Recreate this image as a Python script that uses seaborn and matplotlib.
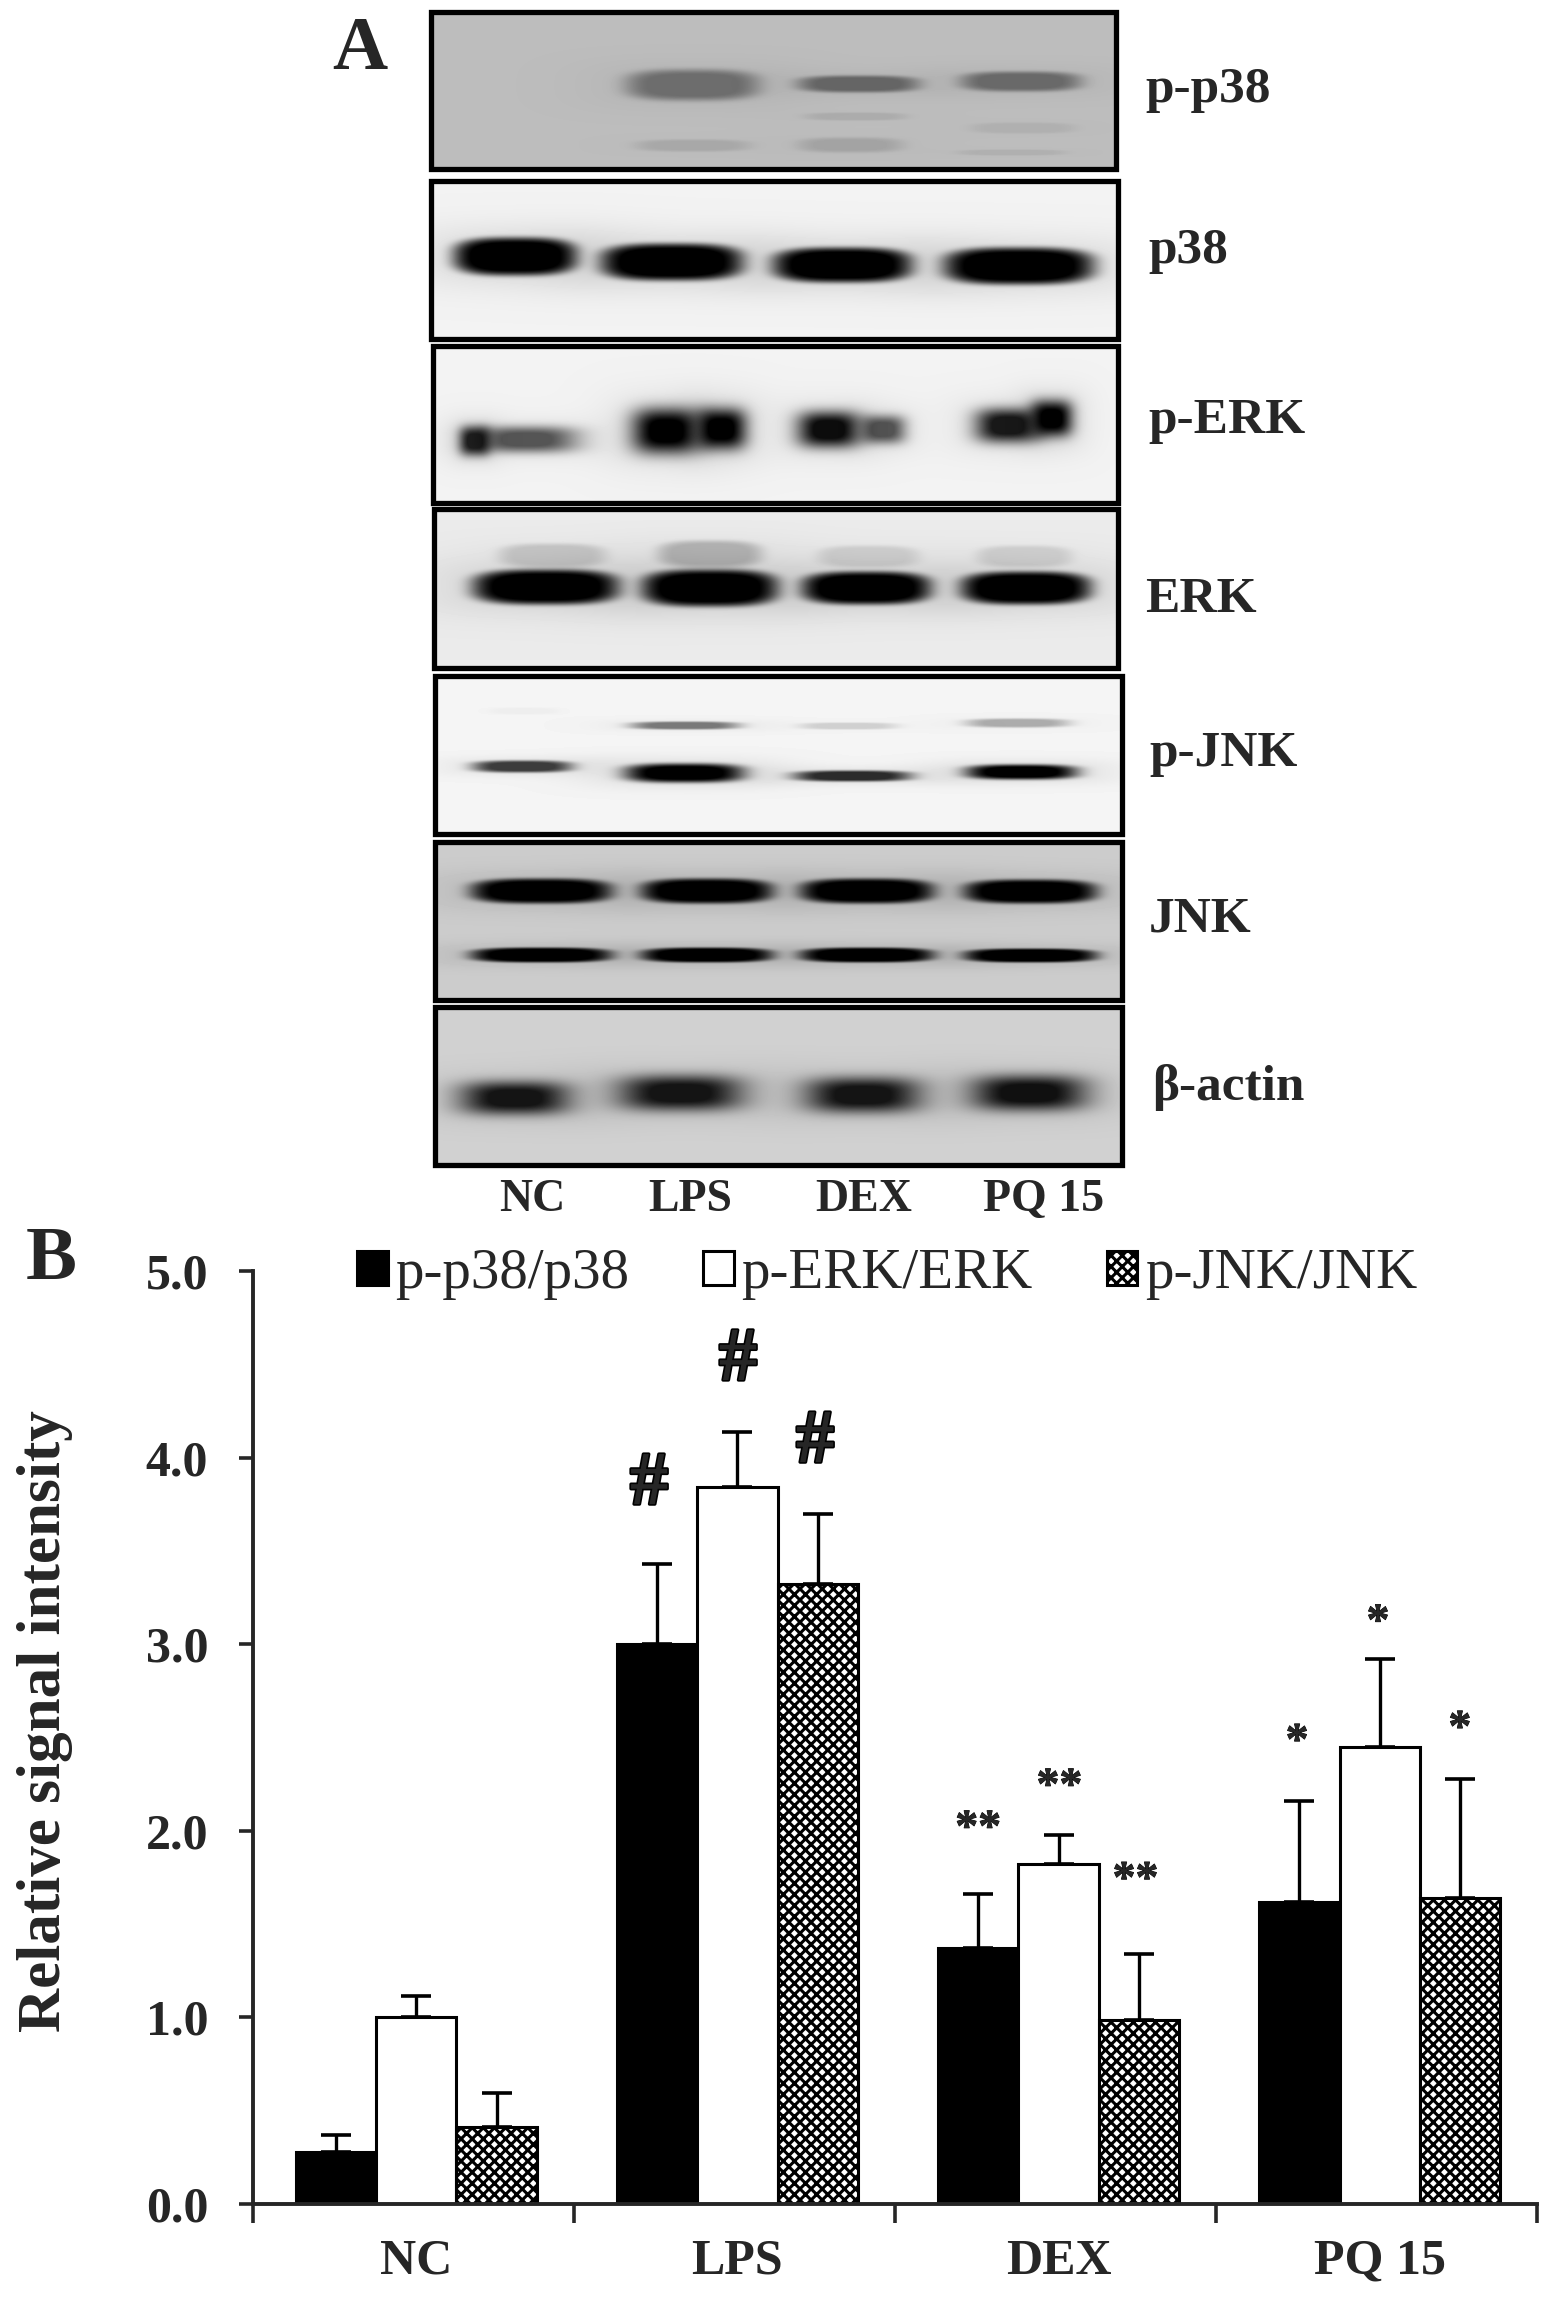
#!/usr/bin/env python3

import numpy as np
import pandas as pd
import matplotlib
matplotlib.use('Agg')
import matplotlib.pyplot as plt
import matplotlib.patheffects as pe
import seaborn as sns
from matplotlib.patches import Patch, Rectangle

W, H = 1559, 2313

# ---- data: panel B ----
groups = ['NC', 'LPS', 'DEX', 'PQ 15']
series = ['p-p38/p38', 'p-ERK/ERK', 'p-JNK/JNK']
p38_mean = [0.28, 3.00, 1.37, 1.62]
p38_sd = [0.09, 0.43, 0.29, 0.54]
erk_mean = [1.00, 3.84, 1.82, 2.45]
erk_sd = [0.115, 0.295, 0.16, 0.47]
jnk_mean = [0.415, 3.32, 0.985, 1.64]
jnk_sd = [0.18, 0.38, 0.355, 0.635]
yticks = [0, 1, 2, 3, 4, 5]

# significance marks: text, x in category units, y in value units
marks = [('#', 0.725, 3.85), ('#', 1.002, 4.515), ('#', 1.242, 4.075),
         ('**', 1.75, 2.005), ('**', 2.003, 2.23), ('**', 2.24, 1.73),
         ('*', 2.743, 2.47), ('*', 2.995, 3.11), ('*', 3.25, 2.54)]

# ---- data: panel A, blots as soft bands (x0, x1, y0, y1, depth) on page pixels ----
blots = [
    dict(name='p-p38', frame=(431, 1116, 12, 169), bg=0.74, edge=6, bands=[
        (625, 759, 69, 100, 0.42), (797, 919, 75, 92, 0.46), (960, 1081, 71, 91, 0.44),
        (635, 750, 139, 151, 0.11), (804, 906, 112, 120, 0.09), (797, 903, 137, 152, 0.13),
        (970, 1075, 122, 133, 0.07), (957, 1065, 149, 155, 0.07)]),
    dict(name='p38', frame=(431, 1118, 181, 339), bg=0.95, edge=7, bands=[
        (453, 577, 237, 275, 1.0), (600, 743, 243, 280, 1.0),
        (772, 912, 247, 282, 1.0), (943, 1094, 247, 284, 1.0)]),
    dict(name='p-ERK', frame=(433, 1118, 346, 503), bg=0.95, edge=3, bands=[
        (459, 490, 426, 455, 0.85), (475, 577, 426, 452, 0.65),
        (632, 700, 408, 453, 1.0), (695, 746, 408, 449, 1.0),
        (797, 860, 411, 447, 0.95), (860, 905, 415, 443, 0.65),
        (975, 1040, 408, 442, 0.9), (1030, 1072, 400, 436, 1.0)]),
    dict(name='ERK', frame=(434, 1118, 509, 668), bg=0.92, edge=7, bands=[
        (472, 619, 569, 604, 1.0), (641, 778, 569, 606, 1.0),
        (801, 931, 571, 604, 1.0), (960, 1091, 571, 604, 1.0),
        (498, 606, 543, 567, 0.16), (657, 762, 540, 567, 0.24),
        (817, 919, 545, 567, 0.12), (976, 1072, 545, 567, 0.12)]),
    dict(name='p-JNK', frame=(435, 1122, 676, 834), bg=0.96, edge=5, bands=[
        (487, 560, 707, 714, 0.03), (630, 739, 721, 729, 0.5),
        (799, 897, 722, 729, 0.15), (965, 1069, 718, 727, 0.3),
        (472, 572, 760, 772, 0.75), (624, 744, 763, 782, 1.0),
        (793, 911, 770, 781, 0.82), (965, 1077, 764, 779, 1.0)]),
    dict(name='JNK', frame=(435, 1122, 842, 1000), bg=0.80, edge=7, bands=[
        (470, 612, 878, 903, 1.0), (640, 773, 878, 903, 1.0),
        (799, 934, 878, 903, 1.0), (963, 1097, 879, 903, 1.0),
        (470, 612, 947, 962, 1.0), (640, 773, 947, 962, 1.0),
        (799, 934, 947, 962, 1.0), (963, 1097, 948, 962, 1.0)]),
    dict(name='actin', frame=(435, 1122, 1007, 1165), bg=0.82, edge=3, bands=[
        (460, 569, 1081, 1114, 0.9), (618, 742, 1075, 1110, 0.9),
        (805, 920, 1077, 1112, 0.9), (971, 1086, 1075, 1110, 0.92)]),
]
blot_labels = [('p-p38', 1145, 102), ('p38', 1148, 263), ('p-ERK', 1148, 433), ('ERK', 1145, 612),
               ('p-JNK', 1149, 766), ('JNK', 1149, 932), ('β-actin', 1152, 1100)]
lane_labels = [('NC', 532), ('LPS', 690), ('DEX', 864), ('PQ 15', 1044)]

sns.set_style('ticks')
plt.rcParams['font.family'] = ['Liberation Serif', 'DejaVu Serif']
plt.rcParams['hatch.linewidth'] = 2.2

fig = plt.figure(figsize=(W / 100, H / 100), dpi=100)

# ---- panel A ----
page = fig.add_axes([0, 0, 1, 1], zorder=0)
for blot in blots:
    x0, x1, y0, y1 = blot['frame']
    xx, yy = np.meshgrid(np.arange(x0, x1), np.arange(y0, y1))
    img = np.full(xx.shape, blot['bg'], dtype=float)
    for bx0, bx1, by0, by1, depth in blot['bands']:
        cx, cy = (bx0 + bx1) / 2, (by0 + by1) / 2
        u = np.abs((xx - cx) / ((bx1 - bx0) / 2))
        v = np.abs((yy - cy) / ((by1 - by0) / 2))
        r = (u ** 3 + v ** 3) ** (1 / 3)
        core = np.exp(-r ** blot['edge'])
        halo = 0.12 * np.exp(-(r / 1.5) ** 2)
        img *= 1 - depth * np.clip(core + halo, 0, 1)
    page.imshow(img, extent=(x0, x1, y1, y0), cmap='gray', vmin=0, vmax=1, aspect='auto', interpolation='bilinear')
    page.add_patch(Rectangle((x0, y0), x1 - x0, y1 - y0, fill=False, edgecolor='black', linewidth=3.8))

for text, x, y in blot_labels:
    page.text(x, y, text, fontsize=37, fontweight='bold', ha='left', va='baseline')
for text, x in lane_labels:
    page.text(x, 1211, text, fontsize=33, fontweight='bold', ha='center', va='baseline')
page.text(332, 69, 'A', fontsize=55, fontweight='bold', ha='left', va='baseline')
page.text(26, 1279, 'B', fontsize=55, fontweight='bold', ha='left', va='baseline')
page.text(60, 1721, 'Relative signal intensity', fontsize=44, fontweight='bold', rotation=90,
          ha='center', va='baseline', rotation_mode='anchor')
page.set_xlim(0, W)
page.set_ylim(H, 0)
page.axis('off')

# ---- panel B ----
df = pd.DataFrame({
    'group': groups * 3,
    'series': np.repeat(series, len(groups)),
    'value': p38_mean + erk_mean + jnk_mean,
})
ax = fig.add_axes([252.5 / W, 1 - 2204 / H, (1537 - 252.5) / W, (2204 - 1271) / H], zorder=1)
ax.patch.set_alpha(0)
sns.barplot(data=df, x='group', y='value', hue='series', palette=['black', 'white', 'white'],
            width=0.75, gap=0, saturation=1, edgecolor='black', linewidth=2.2,
            errorbar=None, legend=False, ax=ax)

for bars, sd, hatch in zip(ax.containers, [p38_sd, erk_sd, jnk_sd], [None, None, 'xxx']):
    centers = [b.get_x() + b.get_width() / 2 for b in bars]
    tops = [b.get_height() for b in bars]
    ax.errorbar(centers, tops, yerr=[np.zeros(len(sd)), sd], fmt='none', ecolor='black',
                elinewidth=2.4, capsize=11, capthick=2.6, zorder=1)
    if hatch:
        for b in bars:
            b.set_hatch(hatch)

ax.set_xlim(-0.51, 3.49)
ax.set_ylim(0, 5)
ax.set_yticks(yticks, labels=[f'{t:.1f}' for t in yticks])
ax.set_xticks(np.arange(-0.51, 3.5), labels=[''] * 5)
ax.set_xticks(range(len(groups)), labels=groups, minor=True)
ax.set_xlabel('')
ax.set_ylabel('')
for tick in ax.get_yticklabels() + ax.get_xticklabels(minor=True):
    tick.set_fontweight('bold')
ax.tick_params(axis='y', length=10, width=2.6, pad=22, labelsize=36)
ax.tick_params(axis='x', which='major', length=14, width=2.6)
ax.tick_params(axis='x', which='minor', length=0, pad=25, labelsize=36)
sns.despine(ax=ax)
ax.spines['left'].set_linewidth(2.8)
ax.spines['bottom'].set_linewidth(2.8)

for text, x, y in marks:
    size = 55 if text == '#' else 33
    stroke = 2.4 if text == '#' else 0.6
    ax.text(x, y, text, fontsize=size, fontweight='bold', ha='center', va='center',
            path_effects=[pe.withStroke(linewidth=stroke, foreground='black')])

handles = [Patch(facecolor='black', edgecolor='black', linewidth=2.2, label=series[0]),
           Patch(facecolor='white', edgecolor='black', linewidth=2.2, label=series[1]),
           Patch(facecolor='white', edgecolor='black', linewidth=2.2, hatch='xxx', label=series[2])]
fig.legend(handles=handles, loc='center left', bbox_to_anchor=(357 / W, 1 - 1274 / H), ncol=3,
           frameon=False, fontsize=41, handlelength=0.54, handleheight=0.54, handletextpad=0.13,
           columnspacing=1.3, borderpad=0, borderaxespad=0)

plt.savefig('out.png', dpi=100)
plt.close()
